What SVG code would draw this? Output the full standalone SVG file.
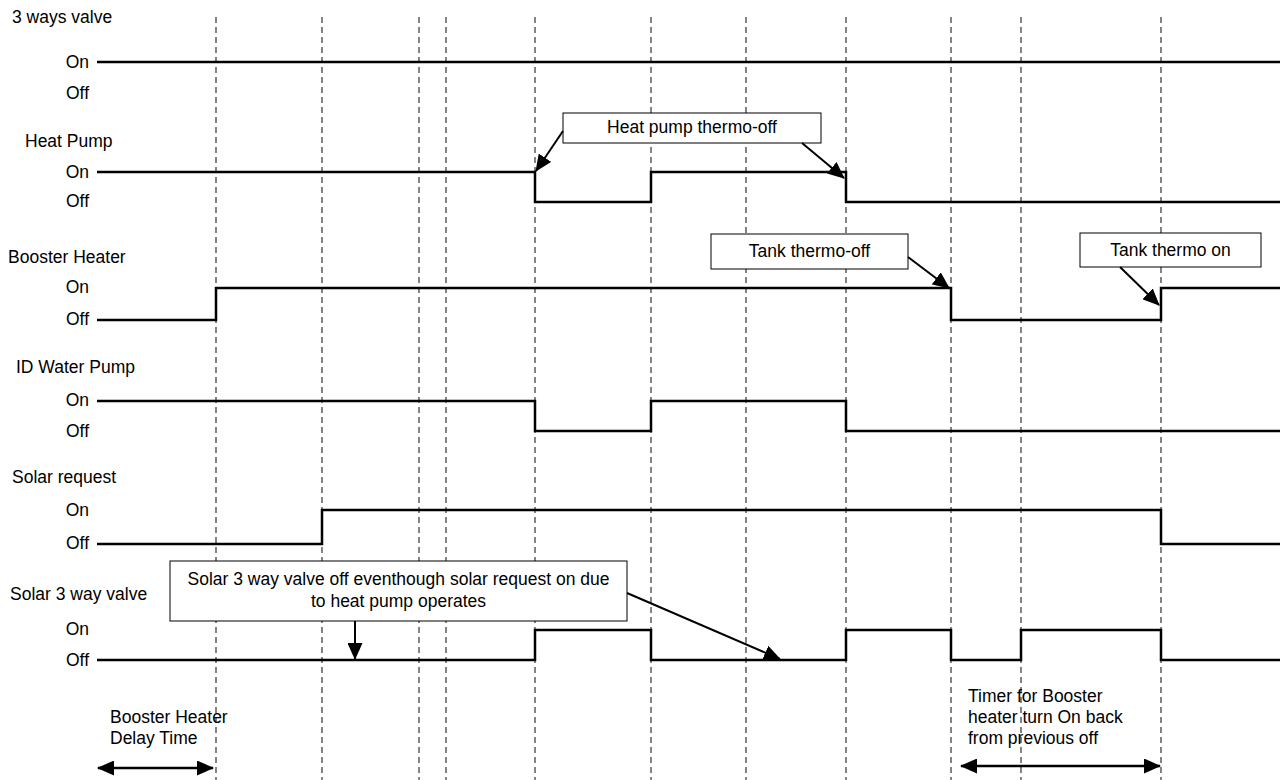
<svg xmlns="http://www.w3.org/2000/svg" width="1283" height="780" viewBox="0 0 1283 780">
<style>
text{font-family:"Liberation Sans",Arial,sans-serif;font-size:17.5px;fill:#000}
.lvl{text-anchor:end}
.mid{text-anchor:middle}
.sig{fill:none;stroke:#000;stroke-width:2.5}
.grid{stroke:#333;stroke-width:1.2;stroke-dasharray:6 4}
.box{fill:#fff;stroke:#000;stroke-width:1}
.arr{fill:none;stroke:#000;stroke-width:2;marker-end:url(#ah)}
.dbl{fill:none;stroke:#000;stroke-width:2.5;marker-start:url(#ah);marker-end:url(#ah)}
</style>
<defs>
<marker id="ah" viewBox="0 0 17 15" refX="16" refY="7.5" markerWidth="17" markerHeight="15" markerUnits="userSpaceOnUse" orient="auto-start-reverse"><path d="M0,0L17,7.5L0,15z" fill="#000"/></marker>
</defs>
<rect width="1283" height="780" fill="#fff"/>
<g id="gridlines">
<line class="grid" x1="216" y1="17" x2="216" y2="780"/>
<line class="grid" x1="322" y1="17" x2="322" y2="780"/>
<line class="grid" x1="419" y1="17" x2="419" y2="780"/>
<line class="grid" x1="446" y1="17" x2="446" y2="780"/>
<line class="grid" x1="535" y1="17" x2="535" y2="780"/>
<line class="grid" x1="651" y1="17" x2="651" y2="780"/>
<line class="grid" x1="746" y1="17" x2="746" y2="780"/>
<line class="grid" x1="846" y1="17" x2="846" y2="780"/>
<line class="grid" x1="951" y1="17" x2="951" y2="780"/>
<line class="grid" x1="1021" y1="17" x2="1021" y2="780"/>
<line class="grid" x1="1161" y1="17" x2="1161" y2="780"/>
</g>
<g id="row-3way">
<text x="12" y="23">3 ways valve</text>
<text class="lvl" x="89" y="68">On</text>
<text class="lvl" x="89" y="99">Off</text>
<path class="sig" d="M97,62H1280"/>
</g>
<g id="row-heatpump">
<text x="25" y="147">Heat Pump</text>
<text class="lvl" x="89" y="178">On</text>
<text class="lvl" x="89" y="207">Off</text>
<path class="sig" d="M97,172H535V202H651V172H846V202H1280"/>
</g>
<g id="row-booster">
<text x="8" y="263">Booster Heater</text>
<text class="lvl" x="89" y="293">On</text>
<text class="lvl" x="89" y="325">Off</text>
<path class="sig" d="M97,320H216V288H951V320H1161V288H1280"/>
</g>
<g id="row-idwp">
<text x="16" y="373">ID Water Pump</text>
<text class="lvl" x="89" y="406">On</text>
<text class="lvl" x="89" y="437">Off</text>
<path class="sig" d="M97,401H535V431H651V401H846V431H1280"/>
</g>
<g id="row-solarreq">
<text x="12" y="483">Solar request</text>
<text class="lvl" x="89" y="516">On</text>
<text class="lvl" x="89" y="549">Off</text>
<path class="sig" d="M97,544H322V510H1161V544H1280"/>
</g>
<g id="row-solar3wv">
<text x="10" y="600">Solar 3 way valve</text>
<text class="lvl" x="89" y="635">On</text>
<text class="lvl" x="89" y="666">Off</text>
<path class="sig" d="M97,660H535V630H651V660H846V630H951V660H1021V630H1161V660H1280"/>
</g>
<g id="callout-hp">
<rect class="box" x="563" y="113" width="258" height="30"/>
<text class="mid" x="692" y="133">Heat pump thermo-off</text>
</g>
<g id="callout-tankoff">
<rect class="box" x="711" y="234" width="197" height="35"/>
<text class="mid" x="809.5" y="257">Tank thermo-off</text>
</g>
<g id="callout-tankon">
<rect class="box" x="1080" y="233" width="181" height="34"/>
<text class="mid" x="1170.5" y="256">Tank thermo on</text>
</g>
<g id="callout-solar">
<rect class="box" x="170" y="561" width="457" height="60"/>
<text class="mid" x="398.5" y="585">Solar 3 way valve off eventhough solar request on due</text>
<text class="mid" x="398.5" y="607">to heat pump operates</text>
</g>
<g id="note-delay">
<text x="110" y="723">Booster Heater</text>
<text x="110" y="744">Delay Time</text>
</g>
<g id="note-timer">
<text x="968" y="702">Timer for Booster</text>
<text x="968" y="723">heater turn On back</text>
<text x="968" y="744">from previous off</text>
</g>
<g id="connectors">
<path class="arr" d="M563,131L536,171"/>
<path class="arr" d="M802,143L844,178"/>
<path class="arr" d="M908,257L949,288"/>
<path class="arr" d="M1120,267L1159,305"/>
<path class="arr" d="M355,621L355,659"/>
<path class="arr" d="M627,593L780,659"/>
<path class="dbl" d="M98,768H213"/>
<path class="dbl" d="M961,766H1160"/>
</g>
</svg>
